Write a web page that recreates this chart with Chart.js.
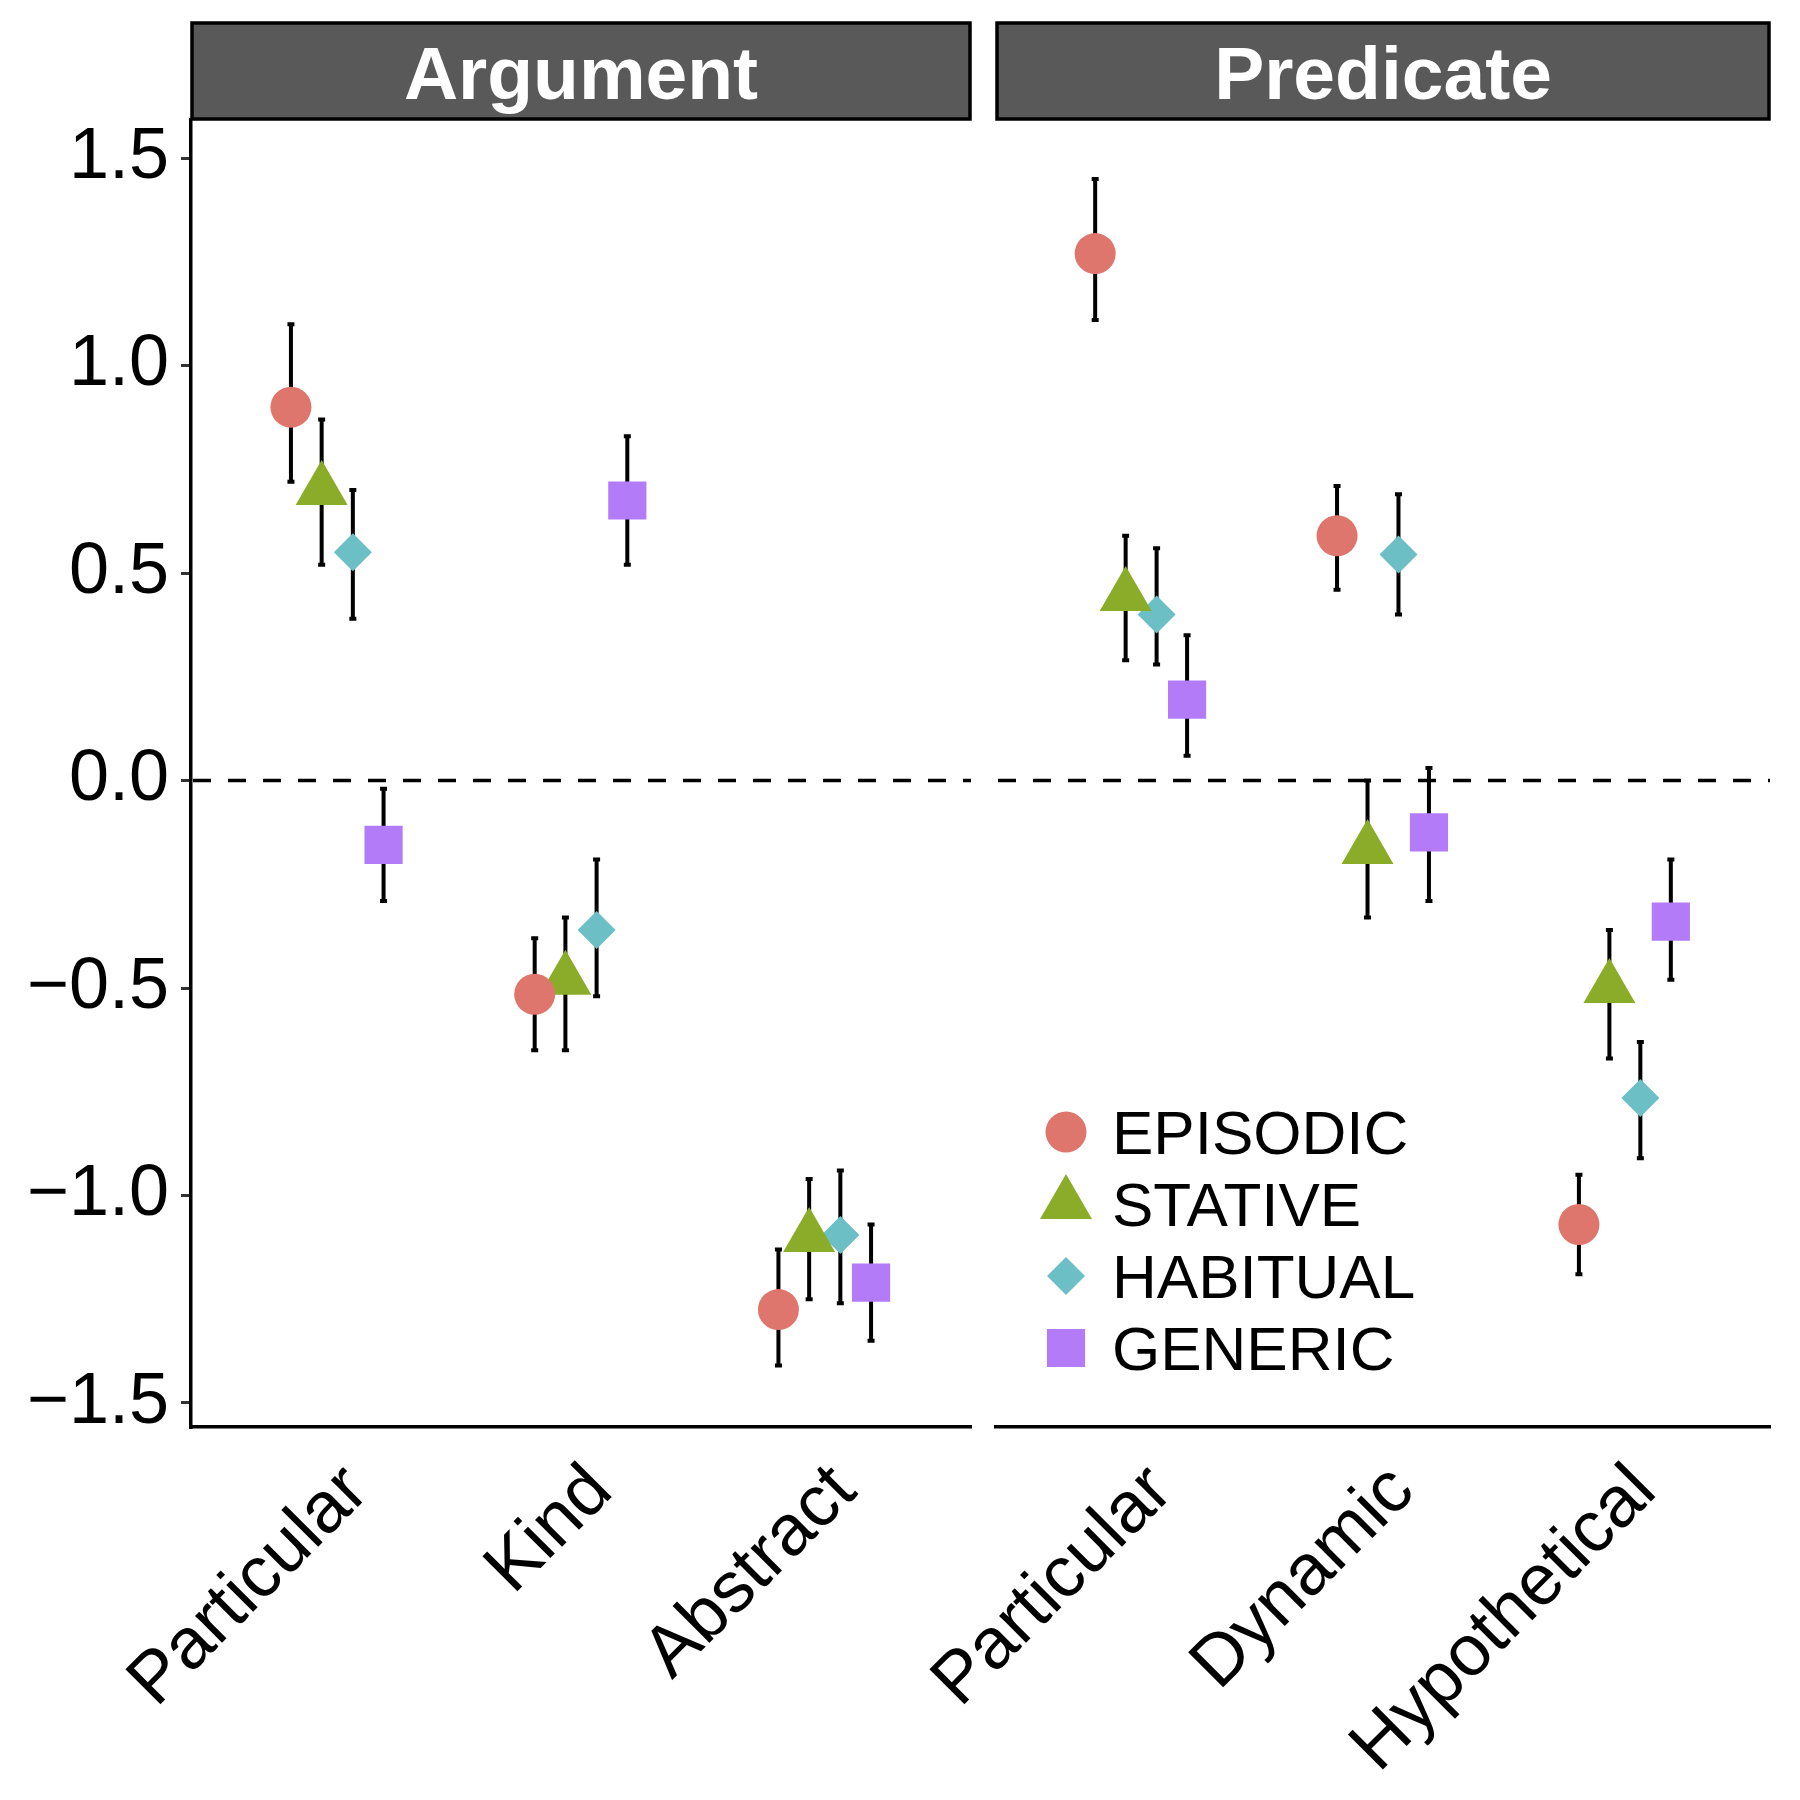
<!DOCTYPE html>
<html>
<head>
<meta charset="utf-8">
<script src="https://cdn.jsdelivr.net/npm/chart.js@4.4.1/dist/chart.umd.min.js"></script>
<style>
html, body { margin: 0; padding: 0; background: #fff; }
#wrap { position: relative; width: 1800px; height: 1800px; }
#wrap canvas { position: absolute; left: 0; top: 0; }
</style>
</head>
<body>
<div id="wrap">
  <canvas id="argChart" width="1800" height="1800"></canvas>
  <canvas id="predChart" width="1800" height="1800"></canvas>
</div>
<script>
// series
const seriesNames = ['EPISODIC', 'STATIVE', 'HABITUAL', 'GENERIC'];
const seriesColors = ['#DE766E', '#8AAC28', '#6CBFC5', '#B47BF8'];
const seriesShapes = ['circle', 'triangle', 'rectRot', 'rect'];
const shapeRadius = [20.5, 30, 19, 27];
const dodge = [-0.19, -0.064, 0.064, 0.19];

const yTicks = [-1.5, -1, -0.5, 0, 0.5, 1, 1.5];
const yTickLabels = ['\u22121.5', '\u22121.0', '\u22120.5', '0.0', '0.5', '1.0', '1.5'];

// Argument panel
const argCats = ['Particular', 'Kind', 'Abstract'];
const argEpisodic = [0.90, -0.515, -1.275];
const argStative = [0.70, -0.48, -1.10];
const argHabitual = [0.55, -0.36, -1.095];
const argGeneric = [-0.155, 0.675, -1.21];
const argEpisodicCI = [[0.72, 1.10], [-0.65, -0.38], [-1.41, -1.13]];
const argStativeCI = [[0.52, 0.87], [-0.65, -0.33], [-1.25, -0.96]];
const argHabitualCI = [[0.39, 0.70], [-0.52, -0.19], [-1.26, -0.94]];
const argGenericCI = [[-0.29, -0.02], [0.52, 0.83], [-1.35, -1.07]];

// Predicate panel
const predCats = ['Particular', 'Dynamic', 'Hypothetical'];
const predEpisodic = [1.27, 0.59, -1.07];
const predStative = [0.445, -0.165, -0.50];
const predHabitual = [0.40, 0.545, -0.765];
const predGeneric = [0.195, -0.125, -0.34];
const predEpisodicCI = [[1.11, 1.45], [0.46, 0.71], [-1.19, -0.95]];
const predStativeCI = [[0.29, 0.59], [-0.33, 0.00], [-0.67, -0.36]];
const predHabitualCI = [[0.28, 0.56], [0.40, 0.69], [-0.91, -0.63]];
const predGenericCI = [[0.06, 0.35], [-0.29, 0.03], [-0.48, -0.19]];

Chart.defaults.font.family = '"Liberation Sans", Arial, sans-serif';
Chart.defaults.color = '#000';

function drawShape(ctx, shape, x, y, r) {
  ctx.beginPath();
  if (shape === 'circle') {
    ctx.arc(x, y, r, 0, Math.PI * 2);
  } else if (shape === 'triangle') {
    const a = 2 * Math.PI / 3;
    ctx.moveTo(x, y - r);
    ctx.lineTo(x + Math.sin(a) * r, y - Math.cos(a) * r);
    ctx.lineTo(x - Math.sin(a) * r, y - Math.cos(a) * r);
  } else if (shape === 'rectRot') {
    ctx.moveTo(x, y - r); ctx.lineTo(x + r, y); ctx.lineTo(x, y + r); ctx.lineTo(x - r, y);
  } else {
    const s = r * Math.SQRT1_2;
    ctx.rect(x - s, y - s, 2 * s, 2 * s);
  }
  ctx.closePath();
  ctx.fill();
}

// dashed zero line + error bars, under the points
const barsPlugin = {
  id: 'bars',
  beforeDatasetsDraw(chart) {
    const { ctx, chartArea: a, scales } = chart;
    const y0 = scales.y.getPixelForValue(0);
    ctx.save();
    ctx.strokeStyle = '#000';
    ctx.lineWidth = 3.5;
    ctx.setLineDash([18, 17]);
    ctx.beginPath();
    ctx.moveTo(a.left + 2, y0);
    ctx.lineTo(a.right, y0);
    ctx.stroke();
    ctx.setLineDash([]);
    ctx.lineWidth = 4;
    chart.data.datasets.forEach(ds => {
      ds.data.forEach(p => {
        const x = scales.x.getPixelForValue(p.x);
        const yl = scales.y.getPixelForValue(p.lo);
        const yh = scales.y.getPixelForValue(p.hi);
        ctx.beginPath();
        ctx.moveTo(x, yl); ctx.lineTo(x, yh);
        ctx.moveTo(x - 3.5, yl); ctx.lineTo(x + 3.5, yl);
        ctx.moveTo(x - 3.5, yh); ctx.lineTo(x + 3.5, yh);
        ctx.stroke();
      });
    });
    ctx.restore();
  }
};

const stripPlugin = {
  id: 'strip',
  afterDraw(chart, args, opts) {
    const { ctx, chartArea: a } = chart;
    ctx.save();
    ctx.fillStyle = '#595959';
    ctx.fillRect(a.left, 22, a.right - a.left, 98);
    ctx.lineWidth = 3.5;
    ctx.strokeStyle = '#000';
    ctx.strokeRect(a.left + 1, 23, a.right - a.left - 2, 96);
    ctx.fillStyle = '#fff';
    ctx.font = 'bold 75px "Liberation Sans", Arial, sans-serif';
    ctx.textAlign = 'center';
    ctx.textBaseline = 'alphabetic';
    ctx.fillText(opts.title, (a.left + a.right) / 2, 99);
    ctx.restore();
  }
};

const legendPlugin = {
  id: 'keyBox',
  afterDraw(chart, args, opts) {
    if (!opts.show) return;
    const ctx = chart.ctx;
    ctx.save();
    ctx.font = '62px "Liberation Sans", Arial, sans-serif';
    ctx.textAlign = 'left';
    ctx.textBaseline = 'alphabetic';
    seriesNames.forEach((name, i) => {
      const cy = 1132 + i * 72;
      ctx.fillStyle = seriesColors[i];
      drawShape(ctx, seriesShapes[i], 1066, cy, shapeRadius[i]);
      ctx.fillStyle = '#000';
      ctx.fillText(name, 1112, cy + 22);
    });
    ctx.restore();
  }
};

function makePanel(id, title, cats, means, cis, showY, padLeft, padRight, showLegend) {
  const datasets = seriesNames.map((name, s) => ({
    label: name,
    data: cats.map((c, i) => ({ x: i + 1 + dodge[s], y: means[s][i], lo: cis[s][i][0], hi: cis[s][i][1] })),
    pointStyle: seriesShapes[s],
    pointRadius: shapeRadius[s],
    backgroundColor: seriesColors[s],
    pointBorderWidth: 0,
    borderWidth: 0
  }));
  return new Chart(document.getElementById(id), {
    type: 'scatter',
    data: { datasets },
    plugins: [barsPlugin, stripPlugin, legendPlugin],
    options: {
      responsive: false,
      animation: false,
      events: [],
      layout: { padding: { left: padLeft, right: padRight, top: 120, bottom: 0 } },
      plugins: {
        legend: { display: false },
        tooltip: { enabled: false },
        strip: { title },
        keyBox: { show: showLegend }
      },
      scales: {
        x: {
          type: 'linear',
          bounds: 'data',
          min: 0.4,
          max: 3.6,
          afterBuildTicks: sc => { sc.ticks = cats.map((c, i) => ({ value: i + 1 })); },
          afterFit: sc => { sc.height = 373; },
          ticks: {
            callback: (v, i) => cats[i],
            font: { size: 72 },
            color: '#000',
            maxRotation: 45,
            minRotation: 45,
            autoSkip: false,
            labelOffset: 20,
            padding: 22
          },
          grid: { display: false, drawTicks: false },
          border: { display: true, color: '#000', width: 3.5 }
        },
        y: {
          type: 'linear',
          display: showY,
          bounds: 'data',
          min: -1.558,
          max: 1.592,
          afterBuildTicks: sc => { sc.ticks = yTicks.map(v => ({ value: v })); },
          afterFit: sc => { sc.width = 191 - padLeft; },
          ticks: {
            callback: (v, i) => yTickLabels[i],
            font: { size: 72 },
            color: '#000',
            padding: 12
          },
          grid: { drawOnChartArea: false, drawTicks: true, tickLength: 10, color: '#333', lineWidth: 3 },
          border: { display: true, color: '#000', width: 3.5 }
        }
      }
    }
  });
}

makePanel('argChart', 'Argument', argCats,
  [argEpisodic, argStative, argHabitual, argGeneric],
  [argEpisodicCI, argStativeCI, argHabitualCI, argGenericCI],
  true, 0, 1800 - 971, false);

makePanel('predChart', 'Predicate', predCats,
  [predEpisodic, predStative, predHabitual, predGeneric],
  [predEpisodicCI, predStativeCI, predHabitualCI, predGenericCI],
  false, 996, 1800 - 1777, true);
</script>
</body>
</html>
